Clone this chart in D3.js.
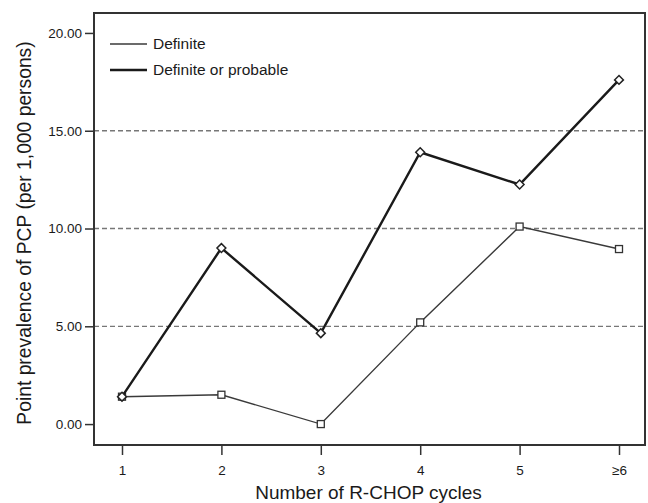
<!DOCTYPE html>
<meta charset="utf-8">

<head>
  <script src="https://d3js.org/d3.v7.min.js"></script>
  <style>
    body { margin: 0; background: #fff; }
    text { font-family: "Liberation Sans", Arial, sans-serif; fill: #1a1a1a; }
  </style>
</head>

<body>
  <svg id="root"></svg>

  <script>
    // Data
    const cycles = ["1", "2", "3", "4", "5", "\u22656"];
    const definite = [1.4, 1.5, 0.0, 5.2, 10.1, 8.95];
    const definiteOrProbable = [1.4, 9.0, 4.65, 13.9, 12.25, 17.6];
    const yTicks = [0, 5, 10, 15, 20];
    const gridTicks = [5, 10, 15];

    const margin = { top: 13, right: 3, bottom: 58, left: 94 },
      width = 648 - margin.left - margin.right,
      height = 503 - margin.top - margin.bottom;

    const svg = d3.select("#root")
      .attr("width", width + margin.left + margin.right)
      .attr("height", height + margin.top + margin.bottom)
      .append("g")
      .attr("transform", "translate(" + margin.left + "," + margin.top + ")");

    const xScale = d3.scalePoint(cycles, [28, 525]);
    const yScale = d3.scaleLinear([-1.07, 21.02], [height, 0]);

    // dashed reference lines
    svg.append("g")
      .selectAll("line")
      .data(gridTicks)
      .join("line")
      .attr("x1", 0)
      .attr("x2", width)
      .attr("y1", d => yScale(d))
      .attr("y2", d => yScale(d))
      .attr("stroke", "#777")
      .attr("stroke-width", 1.3)
      .attr("stroke-dasharray", "5,3");

    // Axes
    const yAxis = d3.axisLeft(yScale)
      .tickValues(yTicks)
      .tickFormat(d3.format(".2f"))
      .tickSize(9)
      .tickPadding(3);
    const gy = svg.append("g").call(yAxis);
    gy.select(".domain").remove();
    gy.selectAll("line").attr("stroke", "#333").attr("stroke-width", 1.5);
    gy.selectAll("text").style("font-size", "13.5px").attr("fill", "#1a1a1a");

    const xAxis = d3.axisBottom(xScale)
      .tickSize(10)
      .tickPadding(10);
    const gx = svg.append("g")
      .attr("transform", `translate(0,${height})`)
      .call(xAxis);
    gx.select(".domain").remove();
    gx.selectAll("line").attr("stroke", "#333").attr("stroke-width", 1.5);
    gx.selectAll("text").style("font-size", "13.5px").attr("fill", "#1a1a1a");

    // frame
    svg.append("rect")
      .attr("x", 0)
      .attr("y", 0)
      .attr("width", width)
      .attr("height", height)
      .attr("fill", "none")
      .attr("stroke", "#333")
      .attr("stroke-width", 2);

    // Axes labels
    svg.append("text")
      .attr("text-anchor", "middle")
      .attr("x", width / 2 - 1)
      .attr("y", height + 54)
      .style("font-size", "19px")
      .text("Number of R-CHOP cycles");

    svg.append("text")
      .attr("text-anchor", "middle")
      .attr("transform", "rotate(-90)")
      .attr("x", -220)
      .attr("y", -63)
      .style("font-size", "19.3px")
      .text("Point prevalence of PCP (per 1,000 persons)");

    const line = d3.line()
      .x((d, i) => xScale(cycles[i]))
      .y(d => yScale(d));

    // Definite (thin, squares)
    svg.append("path")
      .datum(definite)
      .attr("fill", "none")
      .attr("stroke", "#3a3a3a")
      .attr("stroke-width", 1.4)
      .attr("d", line);

    svg.append("g")
      .selectAll("rect")
      .data(definite)
      .join("rect")
      .attr("x", (d, i) => xScale(cycles[i]) - 3.5)
      .attr("y", d => yScale(d) - 3.5)
      .attr("width", 7)
      .attr("height", 7)
      .attr("fill", "#fff")
      .attr("stroke", "#333")
      .attr("stroke-width", 1.3);

    // Definite or probable (thick, diamonds)
    svg.append("path")
      .datum(definiteOrProbable)
      .attr("fill", "none")
      .attr("stroke", "#1a1a1a")
      .attr("stroke-width", 2.4)
      .attr("d", line);

    const diamond = d3.symbol().type(d3.symbolDiamond2).size(50);
    svg.append("g")
      .selectAll("path")
      .data(definiteOrProbable)
      .join("path")
      .attr("transform", (d, i) => `translate(${xScale(cycles[i])},${yScale(d)})`)
      .attr("d", diamond)
      .attr("fill", "#fff")
      .attr("stroke", "#222")
      .attr("stroke-width", 1.5);

    // Legend
    const legendItems = [
      { label: "Definite", width: 1.4, color: "#3a3a3a" },
      { label: "Definite or probable", width: 2.4, color: "#1a1a1a" }
    ];
    const legend = svg.append("g")
      .selectAll("g")
      .data(legendItems)
      .join("g")
      .attr("transform", (d, i) => `translate(16,${31 + i * 26})`);
    legend.append("line")
      .attr("x1", 0)
      .attr("x2", 37)
      .attr("stroke", d => d.color)
      .attr("stroke-width", d => d.width);
    legend.append("text")
      .attr("x", 43)
      .attr("dy", "0.35em")
      .style("font-size", "15.5px")
      .text(d => d.label);
  </script>
</body>
